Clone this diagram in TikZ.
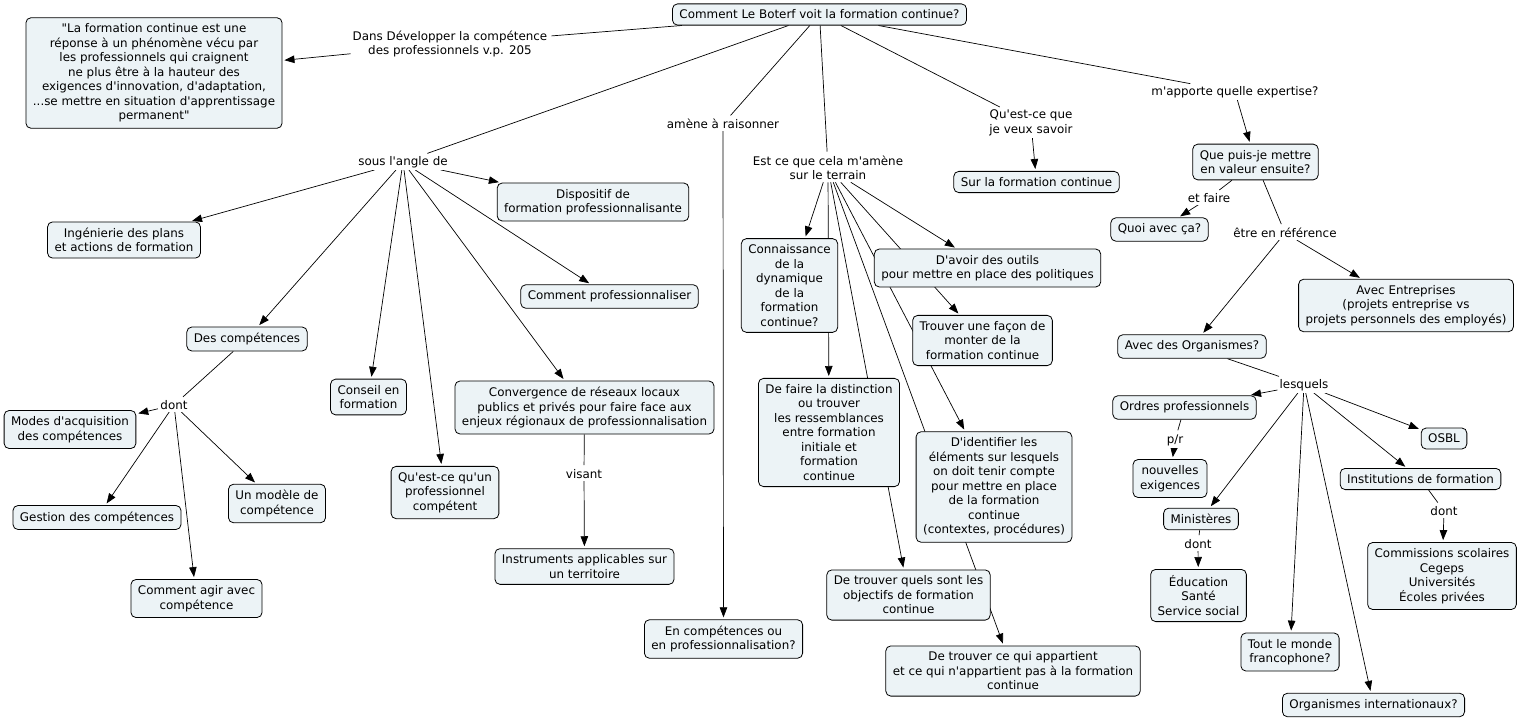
\documentclass[tikz,border=0pt]{standalone}
\usepackage{fontspec}
\setmainfont{DejaVu Sans}[Ligatures=TeXOff]
\usetikzlibrary{arrows.meta}
\usetikzlibrary{backgrounds}
\definecolor{cfill}{RGB}{236,243,246}

\begin{document}
\begin{tikzpicture}[x=1pt,y=-1pt,>={Triangle[length=10pt,width=7.5pt]},font=\fontsize{11.9}{14.5}\selectfont]
			\tikzstyle{concept}=[draw,fill=cfill,rounded corners=5pt,align=center,inner xsep=7pt,inner ysep=6pt,line width=0.8pt];
			\tikzstyle{link}=[fill=white,align=center,inner sep=2pt];
			\tikzstyle{wire}=[line width=0.7pt,shorten >=2pt];
			\useasboundingbox(0,0)rectangle(1518,720);
			\node[concept](root)at(819.5,14.5){Comment Le Boterf voit la formation continue?};
			\node[concept](quote)at(154,73){"La formation continue est une\\r\'eponse \`a un ph\'enom\`ene v\'ecu par\\les professionnels qui craignent\\ne plus \^etre \`a la hauteur des\\exigences d'innovation, d'adaptation,\\...se mettre en situation d'apprentissage\\permanent"};
			\node[link](dans)at(450,44){Dans Développer la compétence\\des professionnels v.p. 205};
			\node[link](angle)at(403,162){sous l'angle de};
			\node[link](raison)at(723,124){amène à raisonner};
			\node[link](terrain)at(828,168){Est ce que cela m'amène\\sur le terrain};
			\node[link](savoir)at(1031,123){Qu'est-ce que\\je veux savoir};
			\node[link](expert)at(1235,92){m'apporte quelle expertise?};
			\node[concept](dispo)at(593,202){Dispositif de\\formation professionnalisante};
			\node[concept](ingen)at(124,240){Ingénierie des plans\\et actions de formation};
			\node[concept](profes)at(609.5,296.5){Comment professionnaliser};
			\node[concept](compet)at(247,339){Des compétences};
			\node[link](dontA)at(174,405){dont};
			\node[concept](modes)at(70,429.5){Modes d'acquisition\\des compétences};
			\node[concept](gestion)at(97,517.5){Gestion des compétences};
			\node[concept](modele)at(277,503.5){Un modèle de\\compétence};
			\node[concept](agir)at(196.5,598.5){Comment agir avec\\compétence};
			\node[concept](conseil)at(368.5,397){Conseil en\\formation};
			\node[concept](qupro)at(445,492.5){Qu'est-ce qu'un\\professionnel\\compétent};
			\node[concept](converg)at(584.5,407.5){Convergence de réseaux locaux\\publics et privés pour faire face aux\\enjeux régionaux de professionnalisation};
			\node[link](visant)at(584,474){visant};
			\node[concept](instr)at(584.5,566.5){Instruments applicables sur\\un territoire};
			\node[concept](encomp)at(723.5,639){En compétences ou\\en professionnalisation?};
			\node[concept](surfc)at(1036.5,182){Sur la formation continue};
			\node[concept](connais)at(789.5,285.5){Connaissance\\de la\\dynamique\\de la\\formation\\continue?};
			\node[concept](outils)at(987.5,268){D'avoir des outils\\pour mettre en place des politiques};
			\node[concept](facon)at(982.5,340.5){Trouver une façon de\\monter de la\\formation continue};
			\node[concept](distin)at(829,432.5){De faire la distinction\\ou trouver\\les ressemblances\\entre formation\\initiale et\\formation\\continue};
			\node[concept](ident)at(994,487){D'identifier les\\éléments sur lesquels\\on doit tenir compte\\pour mettre en place\\de la formation\\continue\\(contextes, procédures)};
			\node[concept](objec)at(908.5,595){De trouver quels sont les\\objectifs de formation\\continue};
			\node[concept](appart)at(1013,671){De trouver ce qui appartient\\et ce qui n'appartient pas à la formation\\continue};
			\node[concept](valeur)at(1255.5,162){Que puis-je mettre\\en valeur ensuite?};
			\node[link](faire)at(1209,198){et faire};
			\node[concept](quoi)at(1159.5,229.5){Quoi avec ça?};
			\node[link](refer)at(1285,233){être en référence};
			\node[concept](entrep)at(1406,305.5){Avec Entreprises\\(projets entreprise vs\\projets personnels des employés)};
			\node[concept](organ)at(1192,346.5){Avec des Organismes?};
			\node[link](lesq)at(1304,385){lesquels};
			\node[concept](ordres)at(1184.5,407.5){Ordres professionnels};
			\node[link](pr)at(1175,440){p/r};
			\node[concept](exig)at(1170,478.5){nouvelles\\exigences};
			\node[concept](osbl)at(1444,438.5){OSBL};
			\node[concept](instit)at(1420.5,479){Institutions de formation};
			\node[link](dontB)at(1444,511){dont};
			\node[concept](commis)at(1442,576){Commissions scolaires\\Cegeps\\Universités\\Écoles privées};
			\node[concept](minist)at(1201,519){Ministères};
			\node[link](dontC)at(1198,544){dont};
			\node[concept](educ)at(1198.5,595.5){Éducation\\Santé\\Service social};
			\node[concept](monde)at(1290,652){Tout le monde\\francophone?};
			\node[concept](inter)at(1373.5,705){Organismes internationaux?};
			\begin{pgfonlayer}{background}
			\begin{scope}[wire]
			\draw(root)--(dans);
			\draw[->](dans)--(quote);
			\draw(root)--(angle);
			\draw(root)--(raison);
			\draw(root)--(terrain);
			\draw(root)--(savoir);
			\draw(root)--(expert);
			\draw[->](angle)--(dispo);
			\draw[->](angle)--(ingen);
			\draw[->](angle)--(profes);
			\draw[->](angle)--(compet);
			\draw[->](angle)--(conseil);
			\draw[->](angle)--(qupro);
			\draw[->](angle)--(converg);
			\draw(compet)--(dontA);
			\draw[->](dontA)--(modes);
			\draw[->](dontA)--(gestion);
			\draw[->](dontA)--(modele);
			\draw[->](dontA)--(agir);
			\draw(converg)--(visant);
			\draw[->](visant)--(instr);
			\draw[->](raison)--(encomp);
			\draw[->](terrain)--(connais);
			\draw[->](terrain)--(distin);
			\draw[->](terrain)--(objec);
			\draw[->](terrain)--(appart);
			\draw[->](terrain)--(ident);
			\draw[->](terrain)--(facon);
			\draw[->](terrain)--(outils);
			\draw[->](savoir)--(surfc);
			\draw[->](expert)--(valeur);
			\draw(valeur)--(faire);
			\draw[->](faire)--(quoi);
			\draw(valeur)--(refer);
			\draw[->](refer)--(entrep);
			\draw[->](refer)--(organ);
			\draw(organ)--(lesq);
			\draw[->](lesq)--(ordres);
			\draw[->](lesq)--(osbl);
			\draw[->](lesq)--(instit);
			\draw[->](lesq)--(minist);
			\draw[->](lesq)--(monde);
			\draw[->](lesq)--(inter);
			\draw(ordres)--(pr);
			\draw[->](pr)--(exig);
			\draw(instit)--(dontB);
			\draw[->](dontB)--(commis);
			\draw(minist)--(dontC);
			\draw[->](dontC)--(educ);
			\end{scope}
			\end{pgfonlayer}
		\end{tikzpicture}
\end{document}
